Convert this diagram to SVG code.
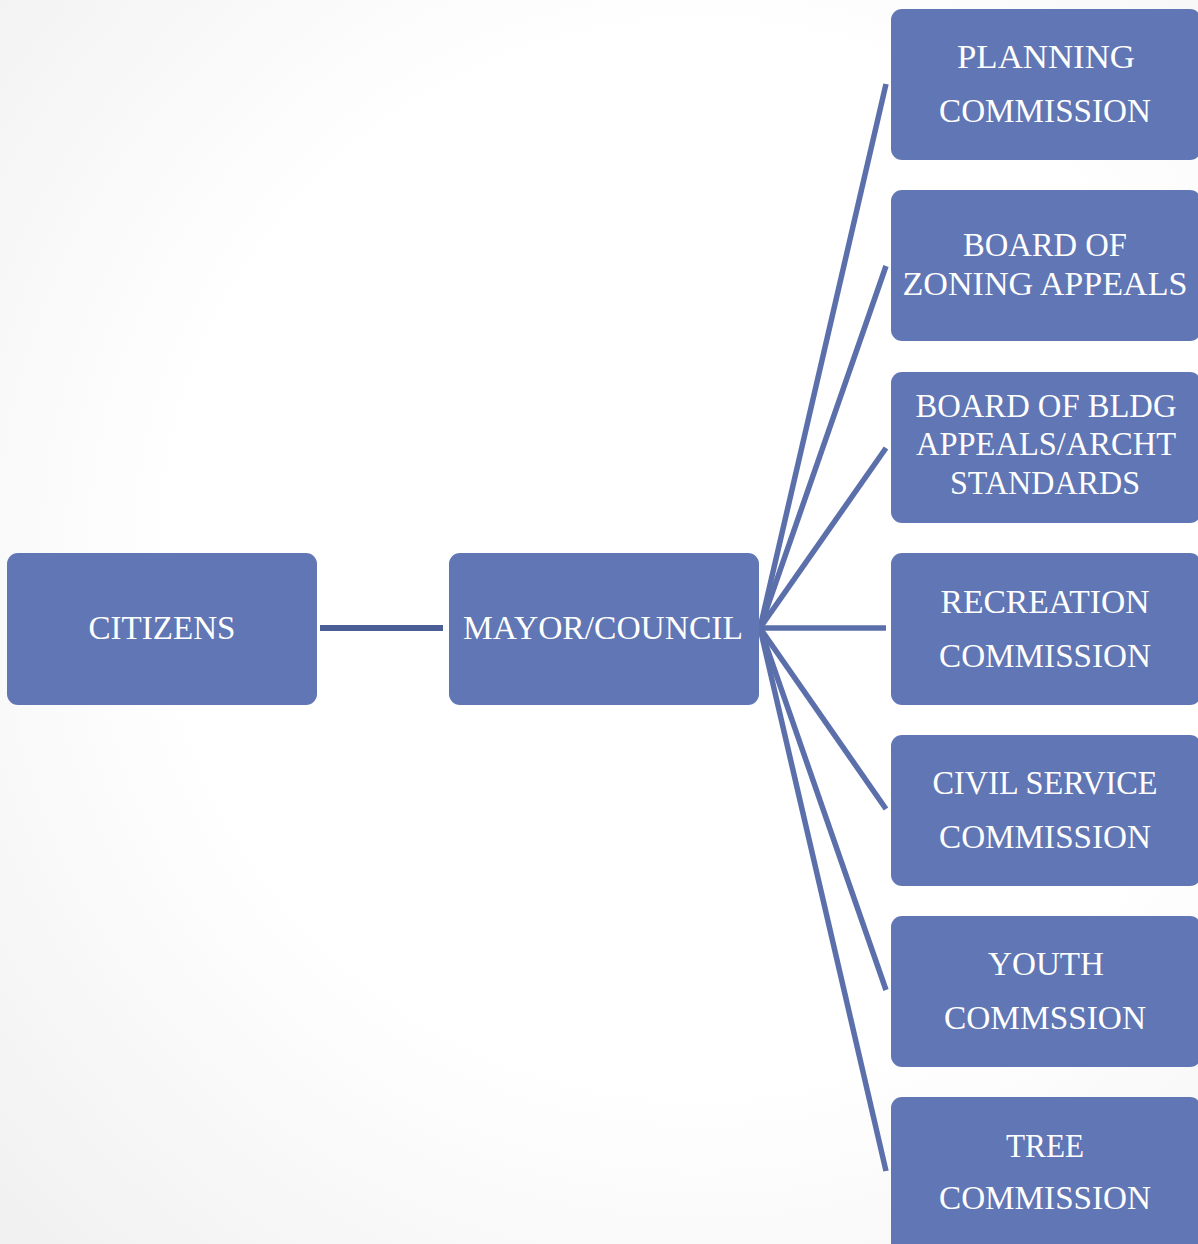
<svg xmlns="http://www.w3.org/2000/svg" width="1198" height="1244" viewBox="0 0 1198 1244">
<defs>
<radialGradient id="bg" cx="700" cy="560" r="950" gradientUnits="userSpaceOnUse">
<stop offset="0.55" stop-color="#ffffff"/>
<stop offset="1" stop-color="#f1f1f1"/>
</radialGradient>
<style>
.box{fill:#6176b4;}
.t{font-family:"Liberation Serif","Times New Roman",serif;font-size:33px;fill:#ffffff;text-anchor:middle;}
.fan{stroke:#5b6fab;stroke-width:5.5;fill:none;}
.link{stroke:#4b5e95;stroke-width:6;fill:none;}
</style>
</defs>
<rect x="0" y="0" width="1198" height="1244" fill="url(#bg)"/>
<g id="connectors">
<line class="link" x1="320" y1="628" x2="443" y2="628"/>
<line class="fan" x1="760" y1="628" x2="886" y2="84"/>
<line class="fan" x1="760" y1="628" x2="886" y2="266"/>
<line class="fan" x1="760" y1="628" x2="886" y2="448"/>
<line class="fan" x1="760" y1="628" x2="886" y2="628"/>
<line class="fan" x1="760" y1="628" x2="886" y2="809"/>
<line class="fan" x1="760" y1="628" x2="886" y2="990"/>
<line class="fan" x1="760" y1="628" x2="886" y2="1171"/>
</g>
<g id="citizens">
<rect class="box" x="7" y="553" width="310" height="152" rx="11"/>
<text class="t" x="162" y="639" textLength="147" lengthAdjust="spacingAndGlyphs">CITIZENS</text>
</g>
<g id="mayor-council">
<rect class="box" x="449" y="553" width="310" height="152" rx="11"/>
<text class="t" x="603" y="639" textLength="280" lengthAdjust="spacingAndGlyphs">MAYOR/COUNCIL</text>
</g>
<g id="planning-commission">
<rect class="box" x="891" y="9" width="310" height="151" rx="11"/>
<text class="t" x="1046" y="68" textLength="178" lengthAdjust="spacingAndGlyphs">PLANNING</text>
<text class="t" x="1045" y="122" textLength="212" lengthAdjust="spacingAndGlyphs">COMMISSION</text>
</g>
<g id="board-of-zoning-appeals">
<rect class="box" x="891" y="190" width="310" height="151" rx="11"/>
<text class="t" x="1045" y="256" textLength="164" lengthAdjust="spacingAndGlyphs">BOARD OF</text>
<text class="t" x="1045" y="295" textLength="285" lengthAdjust="spacingAndGlyphs">ZONING APPEALS</text>
</g>
<g id="board-of-bldg-appeals">
<rect class="box" x="891" y="372" width="310" height="151" rx="11"/>
<text class="t" x="1046" y="417" textLength="261" lengthAdjust="spacingAndGlyphs">BOARD OF BLDG</text>
<text class="t" x="1046" y="455" textLength="260" lengthAdjust="spacingAndGlyphs">APPEALS/ARCHT</text>
<text class="t" x="1045" y="494" textLength="190" lengthAdjust="spacingAndGlyphs">STANDARDS</text>
</g>
<g id="recreation-commission">
<rect class="box" x="891" y="553" width="310" height="152" rx="11"/>
<text class="t" x="1045" y="613" textLength="209" lengthAdjust="spacingAndGlyphs">RECREATION</text>
<text class="t" x="1045" y="667" textLength="212" lengthAdjust="spacingAndGlyphs">COMMISSION</text>
</g>
<g id="civil-service-commission">
<rect class="box" x="891" y="735" width="310" height="151" rx="11"/>
<text class="t" x="1045" y="794" textLength="225" lengthAdjust="spacingAndGlyphs">CIVIL SERVICE</text>
<text class="t" x="1045" y="848" textLength="212" lengthAdjust="spacingAndGlyphs">COMMISSION</text>
</g>
<g id="youth-commission">
<rect class="box" x="891" y="916" width="310" height="151" rx="11"/>
<text class="t" x="1046" y="975" textLength="116" lengthAdjust="spacingAndGlyphs">YOUTH</text>
<text class="t" x="1045" y="1029" textLength="202" lengthAdjust="spacingAndGlyphs">COMMSSION</text>
</g>
<g id="tree-commission">
<rect class="box" x="891" y="1097" width="310" height="160" rx="11"/>
<text class="t" x="1045" y="1157" textLength="78" lengthAdjust="spacingAndGlyphs">TREE</text>
<text class="t" x="1045" y="1209" textLength="212" lengthAdjust="spacingAndGlyphs">COMMISSION</text>
</g>
</svg>
